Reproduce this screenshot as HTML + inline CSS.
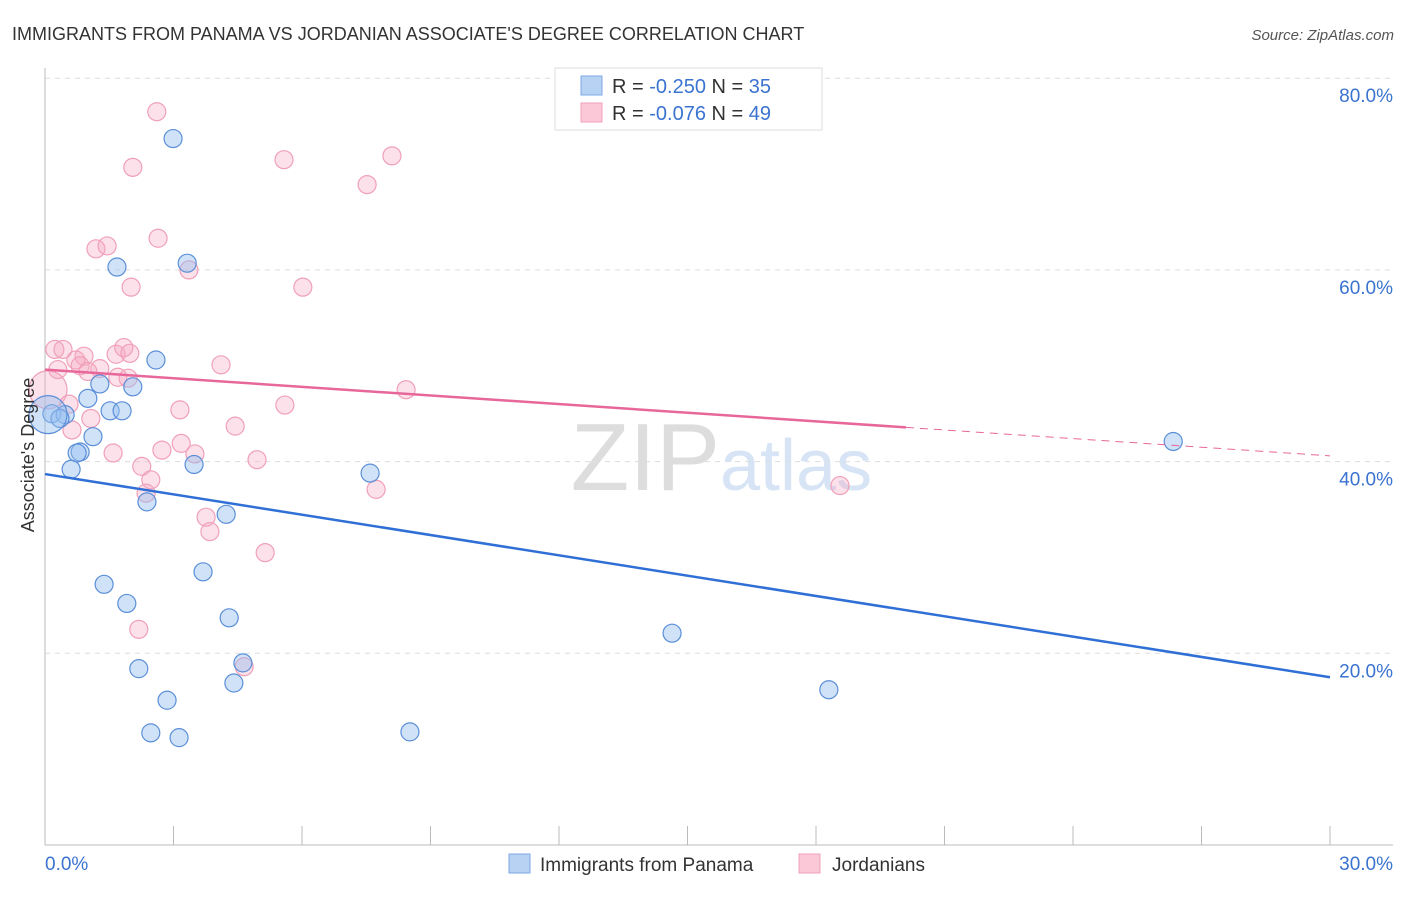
<!DOCTYPE html>
<html><head><meta charset="utf-8"><style>
body{margin:0;background:#fff;font-family:"Liberation Sans",sans-serif}
svg text{font-family:"Liberation Sans",sans-serif}
</style></head><body>
<svg id="c" width="1406" height="892">
<text x="12" y="40" font-size="18" fill="#333">IMMIGRANTS FROM PANAMA VS JORDANIAN ASSOCIATE'S DEGREE CORRELATION CHART</text>
<text x="1394" y="40" font-size="15" fill="#555" font-style="italic" text-anchor="end">Source: ZipAtlas.com</text>
<text x="720" y="490" font-size="96" fill="#ddd" text-anchor="end" font-family="Liberation Serif">ZIP</text>
<text x="720" y="490" font-size="72" fill="#d6e4f5">atlas</text>
<g id="grid"></g><g id="marks"></g>
<text transform="translate(34,455) rotate(-90)" font-size="18" fill="#333" text-anchor="middle">Associate's Degree</text>
<g>
<rect x="555" y="68" width="267" height="62" fill="#fff" stroke="#ddd"/>
<rect x="581" y="76" width="21" height="19" fill="#b8d2f3" stroke="#7ea8e4"/>
<rect x="581" y="103" width="21" height="19" fill="#fbc8d8" stroke="#f0a0b8"/>
<text x="612" y="93" font-size="20" fill="#333">R = <tspan fill="#3b73d0">-0.250</tspan>   N = <tspan fill="#3b73d0">35</tspan></text>
<text x="612" y="120" font-size="20" fill="#333">R = <tspan fill="#3b73d0">-0.076</tspan>   N = <tspan fill="#3b73d0">49</tspan></text>
</g>
<g>
<rect x="509" y="854" width="21" height="19" fill="#b8d2f3" stroke="#7ea8e4"/>
<text x="540" y="871" font-size="19" fill="#333">Immigrants from Panama</text>
<rect x="799" y="854" width="21" height="19" fill="#fbc8d8" stroke="#f0a0b8"/>
<text x="832" y="871" font-size="19" fill="#333">Jordanians</text>
</g>
</svg>
<script>
const yTicks=[20,40,60,80];
const yTickLabels=["20.0%","40.0%","60.0%","80.0%"];
const xTickLabels=["0.0%","30.0%"];
const blueX=[2.99,1.68,3.32,2.59,1.28,2.05,1.00,1.52,1.80,0.16,0.47,0.35,1.12,0.82,0.75,3.48,0.61,7.59,2.38,4.23,3.69,1.38,1.91,4.30,14.64,2.19,4.62,4.41,18.30,2.85,2.47,3.13,8.52,26.34,0.07];
const blueY=[73.7,60.3,60.7,50.6,48.1,47.8,46.6,45.3,45.3,45.0,44.9,44.5,42.6,41.0,40.9,39.7,39.2,38.8,35.8,34.5,28.5,27.2,25.2,23.7,22.1,18.4,19.0,16.9,16.2,15.1,11.7,11.2,11.8,42.1,44.9];
const pinkX=[2.61,2.05,5.58,8.10,7.52,1.19,1.45,2.64,3.36,2.01,6.02,0.23,0.42,0.91,0.72,1.66,1.98,1.84,0.30,0.82,1.28,1.00,1.70,1.94,4.11,8.43,0.07,3.15,5.60,0.56,1.07,0.63,4.44,3.18,1.59,3.50,2.73,4.95,2.26,2.47,2.36,7.73,18.56,3.76,3.85,5.14,2.19,4.65];
const pinkY=[76.5,70.7,71.5,71.9,68.9,62.2,62.5,63.3,60.0,58.2,58.2,51.7,51.7,51.0,50.6,51.2,51.3,51.9,49.6,50.0,49.7,49.4,48.8,48.7,50.1,47.5,47.5,45.4,45.9,46.0,44.5,43.3,43.7,41.9,40.9,40.8,41.2,40.2,39.5,38.1,36.7,37.1,37.5,34.2,32.7,30.5,22.5,18.6];
const blueTrend=[38.7,17.5];
const pinkTrend=[49.6,40.6];
const pinkSolidEnd=20.1;
const X=v=>45+v/30*1285, Y=v=>845-v*9.585;
const NS="http://www.w3.org/2000/svg";
function mk(t,a,p){const e=document.createElementNS(NS,t);for(const k in a)e.setAttribute(k,a[k]);p.appendChild(e);return e;}
const g=document.getElementById('grid'), m=document.getElementById('marks');
yTicks.forEach((t,i)=>{
 const l=mk('line',{x1:45,x2:1393,y1:Y(t),y2:Y(t),stroke:'#ddd','stroke-dasharray':'5,5'},g);
 
 
 const tx=mk('text',{x:1393,y:Y(t)+24,'font-size':19,fill:'#3b73d0','text-anchor':'end'},g);
 tx.textContent=yTickLabels[i];
 
 
});
const ax=mk('line',{x1:45,x2:45,y1:68,y2:845,stroke:'#bbb'},g);


const bx=mk('line',{x1:45,x2:1393,y1:845,y2:845,stroke:'#bbb'},g);


for(let i=0;i<=10;i++){const t=mk('line',{x1:X(i*3),x2:X(i*3),y1:826,y2:845,stroke:'#bbb'},g);
 
 }
[[0,'start',45],[30,'end',1393]].forEach((d,i)=>{const t=mk('text',{x:d[2],y:870,'font-size':19,fill:'#3b73d0','text-anchor':d[1]},g);t.textContent=xTickLabels[i];
 
 });
function pts(xs,ys,fill,stroke,name){xs.forEach((x,i)=>{const big=x<0.1;
 const c=mk('circle',{cx:X(x),cy:Y(ys[i]),r:big?19:9,fill:fill,stroke:stroke,'stroke-width':1.2},m);
 
 });}
pts(pinkX,pinkY,'rgba(246,170,196,0.35)','#f0a0b8','jordanians-point');
pts(blueX,blueY,'rgba(150,190,240,0.45)','#5b8fd8','panama-point');
const bl=mk('line',{x1:X(0),y1:Y(blueTrend[0]),x2:X(30),y2:Y(blueTrend[1]),stroke:'#2f6fd6','stroke-width':2.5},m);


const pe=pinkTrend[0]+(pinkTrend[1]-pinkTrend[0])*pinkSolidEnd/30;
const pl=mk('line',{x1:X(0),y1:Y(pinkTrend[0]),x2:X(pinkSolidEnd),y2:Y(pe),stroke:'#e8679a','stroke-width':2.5},m);


const pd=mk('line',{x1:X(pinkSolidEnd),y1:Y(pe),x2:X(30),y2:Y(pinkTrend[1]),stroke:'#e8679a','stroke-width':1,'stroke-dasharray':'8,6'},m);


</script>
</body></html>
